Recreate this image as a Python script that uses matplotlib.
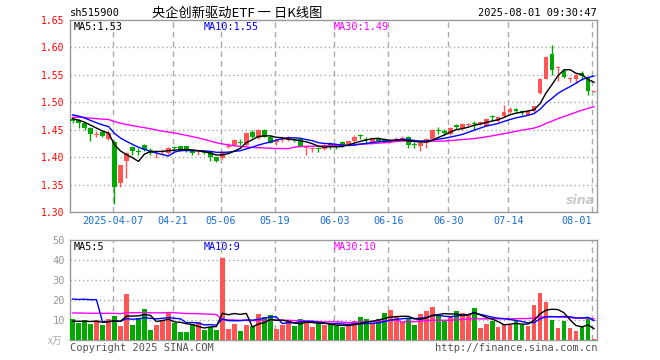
import matplotlib
matplotlib.use("Agg")
import matplotlib.pyplot as plt
import numpy as np
import pandas as pd

plt.rcParams['font.family'] = ['DejaVu Sans Mono', 'Noto Sans CJK SC']

# daily OHLC, 2025-03-26 .. 2025-08-01 (88 trading days)
opens = [1.470, 1.468, 1.462, 1.453, 1.441, 1.446, 1.433, 1.428, 1.352, 1.393,
         1.418, 1.411, 1.422, 1.413, 1.409, 1.410, 1.408, 1.418, 1.420, 1.420,
         1.413, 1.409, 1.410, 1.410, 1.400, 1.398, 1.419, 1.422, 1.428, 1.422,
         1.446, 1.435, 1.450, 1.437, 1.428, 1.431, 1.432, 1.432, 1.433, 1.417,
         1.414, 1.416, 1.415, 1.424, 1.421, 1.428, 1.424, 1.429, 1.440, 1.433,
         1.426, 1.434, 1.433, 1.428, 1.431, 1.433, 1.437, 1.423, 1.420, 1.426,
         1.433, 1.450, 1.448, 1.442, 1.459, 1.451, 1.459, 1.462, 1.460, 1.457,
         1.474, 1.466, 1.475, 1.482, 1.487, 1.483, 1.477, 1.484, 1.517, 1.543,
         1.588, 1.562, 1.557, 1.543, 1.543, 1.553, 1.544, 1.519]
highs = [1.474, 1.470, 1.464, 1.455, 1.448, 1.449, 1.447, 1.431, 1.386, 1.409,
         1.421, 1.416, 1.424, 1.416, 1.412, 1.414, 1.418, 1.421, 1.421, 1.421,
         1.415, 1.413, 1.412, 1.411, 1.401, 1.411, 1.426, 1.433, 1.433, 1.446,
         1.449, 1.451, 1.452, 1.439, 1.433, 1.436, 1.439, 1.434, 1.434, 1.422,
         1.419, 1.419, 1.424, 1.427, 1.424, 1.429, 1.430, 1.440, 1.443, 1.437,
         1.435, 1.436, 1.435, 1.433, 1.436, 1.439, 1.438, 1.427, 1.428, 1.435,
         1.451, 1.455, 1.452, 1.455, 1.461, 1.462, 1.463, 1.466, 1.465, 1.471,
         1.476, 1.475, 1.495, 1.491, 1.489, 1.486, 1.485, 1.493, 1.544, 1.584,
         1.605, 1.566, 1.560, 1.547, 1.551, 1.557, 1.546, 1.521]
lows = [1.462, 1.453, 1.449, 1.429, 1.436, 1.436, 1.431, 1.315, 1.346, 1.362,
        1.404, 1.404, 1.412, 1.404, 1.398, 1.406, 1.406, 1.411, 1.412, 1.409,
        1.404, 1.404, 1.405, 1.393, 1.391, 1.396, 1.417, 1.421, 1.422, 1.420,
        1.435, 1.433, 1.436, 1.425, 1.422, 1.428, 1.430, 1.428, 1.418, 1.403,
        1.410, 1.410, 1.413, 1.414, 1.414, 1.419, 1.422, 1.428, 1.433, 1.425,
        1.424, 1.428, 1.427, 1.426, 1.429, 1.431, 1.417, 1.417, 1.411, 1.417,
        1.432, 1.443, 1.440, 1.441, 1.451, 1.450, 1.457, 1.449, 1.459, 1.456,
        1.466, 1.464, 1.473, 1.481, 1.480, 1.477, 1.476, 1.483, 1.516, 1.542,
        1.550, 1.539, 1.545, 1.537, 1.535, 1.540, 1.513, 1.518]
closes = [1.466, 1.462, 1.453, 1.442, 1.442, 1.439, 1.444, 1.346, 1.386, 1.408,
          1.411, 1.410, 1.413, 1.408, 1.410, 1.411, 1.417, 1.417, 1.413, 1.411,
          1.408, 1.410, 1.408, 1.400, 1.393, 1.410, 1.421, 1.431, 1.426, 1.444,
          1.437, 1.450, 1.437, 1.426, 1.431, 1.433, 1.437, 1.431, 1.418, 1.420,
          1.417, 1.414, 1.422, 1.422, 1.419, 1.420, 1.429, 1.437, 1.439, 1.431,
          1.433, 1.430, 1.428, 1.431, 1.433, 1.435, 1.422, 1.422, 1.426, 1.433,
          1.450, 1.448, 1.444, 1.453, 1.455, 1.460, 1.461, 1.461, 1.464, 1.470,
          1.473, 1.473, 1.482, 1.488, 1.485, 1.482, 1.484, 1.493, 1.543, 1.583,
          1.559, 1.565, 1.546, 1.544, 1.550, 1.548, 1.520, 1.520]
# volume in 万手
volumes = [10.3, 8.7, 10, 8, 10, 7.5, 10.3, 12, 7, 23,
           7.5, 10.8, 15.3, 5, 7.5, 10, 14, 8.7, 4, 4,
           8, 9, 5, 6.7, 5, 41, 5.5, 8, 4.5, 7.5,
           7, 13, 11.3, 12.5, 5.5, 7.5, 10, 7, 10.5, 9.7,
           6.5, 8, 7.5, 8, 7, 6.3, 7.5, 9.5, 11.3, 10.3,
           8.3, 10.3, 13.5, 15, 11.3, 9.2, 10.3, 7.5, 13, 14.5,
           16.5, 12, 10, 12, 14.5, 13.5, 13, 16, 6, 8,
           9.5, 6.5, 8, 7.5, 10, 7.5, 7, 17.5, 23.5, 19,
           10, 6, 9.5, 6, 4.5, 7, 10.5, 0.5]

# days before the window (not drawn), only used to warm up the moving averages
prior_closes = [1.462, 1.468, 1.475, 1.471, 1.466, 1.460, 1.464, 1.472, 1.478, 1.474,
                1.469, 1.465, 1.470, 1.476, 1.473, 1.468, 1.469, 1.474, 1.479, 1.478,
                1.482, 1.487, 1.489, 1.484, 1.478, 1.474, 1.472, 1.469, 1.469]
prior_volumes = [9, 11, 12, 8, 10, 9, 13, 11, 8, 10,
                 9, 12, 10, 8, 11, 9, 10, 12, 9, 9,
                 11, 9, 10, 10, 118, 9, 10, 8.5, 9.2]

tick_index = [7, 17, 25, 34, 44, 53, 63, 73, 87]
tick_labels = ['2025-04-07', '04-21', '05-06', '05-19', '06-03',
               '06-16', '06-30', '07-14', '08-01']

RED = '#ff5555'
GREEN = '#00a800'
GRID = '#aaaaaa'

W, H = 660, 360
fig = plt.figure(figsize=(W / 100, H / 100), dpi=100)
ax = fig.add_axes([70 / W, 1 - 212 / H, 527 / W, 192 / H])
axv = fig.add_axes([70 / W, 1 - 340 / H, 527 / W, 100 / H])

o = np.array(opens)
h = np.array(highs)
l = np.array(lows)
c = np.array(closes)
v = np.array(volumes)
x = np.arange(len(c))
colors = np.where(c >= o, RED, GREEN)

# candles
ax.vlines(x, l, h, colors=colors, lw=1, zorder=3)
body = np.abs(c - o)
bh = np.maximum(body, 0.0019)
ax.bar(x, bh, bottom=np.minimum(o, c) - (bh - body) / 2, width=0.8,
       color=colors, linewidth=0, zorder=4)

# moving averages
price_all = pd.Series(prior_closes + closes)
vol_all = pd.Series(prior_volumes + volumes)
n0 = len(prior_closes)
for n, col in [(30, '#ff00ff'), (10, '#0000ff'), (5, 'black')]:
    ax.plot(x, price_all.rolling(n).mean().iloc[n0:].values, color=col, lw=1, zorder=5)
    axv.plot(x, vol_all.rolling(n).mean().iloc[n0:].values, color=col, lw=1, zorder=5)

axv.bar(x, v, width=0.8, color=colors, linewidth=0, zorder=3)

for a in (ax, axv):
    a.set_xlim(-0.42, len(c) - 0.5)
    for t in tick_index:
        a.axvline(t - 0.3, color=GRID, ls=(0, (4, 3)), lw=1, zorder=1)
    for s in a.spines.values():
        s.set_color('#999999')
        s.set_linewidth(1)
    a.tick_params(length=0)

ax.set_ylim(1.30, 1.65)
price_ticks = np.arange(1.30, 1.651, 0.05)
ax.set_yticks(price_ticks)
ax.set_yticklabels(['%.2f' % p for p in price_ticks], color='red', fontsize=7)
for p in price_ticks[1:-1]:
    ax.axhline(p, color=GRID, ls=(0, (1, 2)), lw=1, zorder=1)
ax.set_xticks([t - 0.3 for t in tick_index])
ax.set_xticklabels(tick_labels, color='#1a6fd0', fontsize=7.3)
ax.get_xticklabels()[-1].set_horizontalalignment('right')
ax.tick_params(axis='y', pad=4)
ax.tick_params(axis='x', pad=3)

axv.set_ylim(0, 50)
vol_ticks = [10, 20, 30, 40, 50]
axv.set_yticks(vol_ticks)
axv.set_yticklabels([str(t) for t in vol_ticks], color='#999999', fontsize=7.5)
for t in vol_ticks[:-1]:
    axv.axhline(t, color=GRID, ls=(0, (1, 2)), lw=1, zorder=1)
axv.set_xticks([])


def px(xp, yp, s, **kw):
    fig.text(xp / W, 1 - yp / H, s, va='center', **kw)


px(70, 13, 'sh515900', fontsize=7.5)
px(237, 13, '央企创新驱动ETF 一 日K线图', ha='center', fontsize=9.5,
   family=['Noto Sans CJK SC', 'DejaVu Sans'])
px(597, 13, '2025-08-01 09:30:47', ha='right', fontsize=7.5)
px(74, 27, 'MA5:1.53', fontsize=7.3)
px(204, 27, 'MA10:1.55', fontsize=7.3, color='#0000ff')
px(334, 27, 'MA30:1.49', fontsize=7.3, color='#ff00ff')
px(74, 247, 'MA5:5', fontsize=7.3)
px(204, 247, 'MA10:9', fontsize=7.3, color='#0000ff')
px(334, 247, 'MA30:10', fontsize=7.3, color='#ff00ff')
px(48, 341, 'x万', fontsize=7, color='#aaaaaa', family=['Noto Sans CJK SC', 'DejaVu Sans'])
px(70, 348, 'Copyright 2025 SINA.COM', fontsize=7.5, color='#555555')
px(597, 348, 'http://finance.sina.com.cn', ha='right', fontsize=7.5, color='#555555')
px(580, 200, 'sina', ha='center', fontsize=9, color='#bbbbbb', style='italic',
   weight='bold', family='DejaVu Sans', alpha=0.8)

fig.savefig('out.png', dpi=100)
